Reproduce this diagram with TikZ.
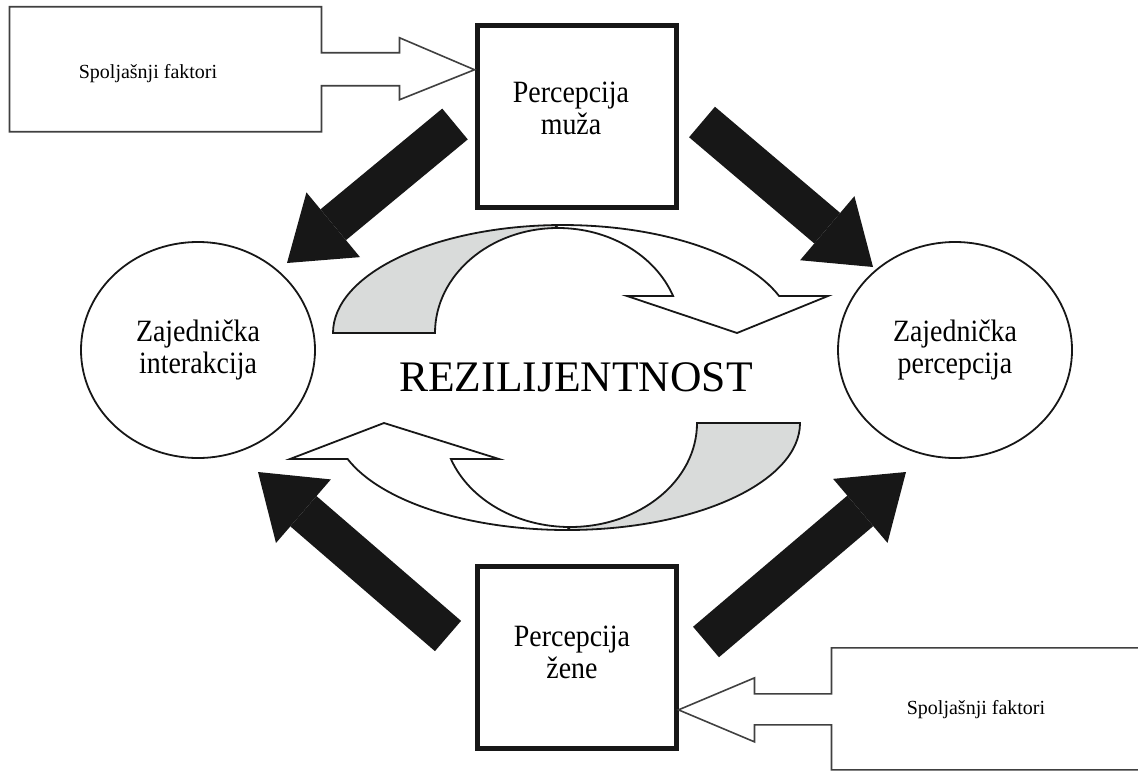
\documentclass[tikz,border=0pt]{standalone}
\usepackage{fontspec}
\usepackage{graphicx}
\setmainfont{Liberation Serif}
\usetikzlibrary{shapes.geometric,arrows.meta,calc}
\definecolor{ink}{RGB}{23,23,23}
\definecolor{ribbongray}{RGB}{217,219,218}
\newcommand{\nar}[1]{\scalebox{0.9}[1]{#1}}

\begin{document}
\begin{tikzpicture}[x=0.5pt, y=0.5pt,
    percbox/.style={draw=ink, fill=white, line width=2.5pt, minimum width=99.5pt, minimum height=91pt, inner sep=0pt},
    circ/.style={draw=ink, ellipse, line width=0.9pt, minimum width=117pt, minimum height=108pt, inner sep=0pt, align=center, font=\fontsize{15.5}{16}\selectfont},
    boxtext/.style={align=center, font=\fontsize{15.5}{16}\selectfont},
    bigarrow/.style={draw=ink, line width=20pt, -{Triangle[length=30pt, width=42pt, line width=0pt]}},
    ribbon/.style={draw=ink, line width=0.9pt, line join=miter},
    callout/.style={draw=black!75, fill=white, line width=0.8pt}]
    \useasboundingbox (0,0) rectangle (1138,-771);

    % Boxes and circles
    \node[percbox] (muz) at (576.5,-116.5) {};
    \node[percbox] (zen) at (576.5,-657.5) {};
    \node[circ] (inter) at (198,-350) {\nar{Zajednička}\\\nar{interakcija}};
    \node[circ] (perc) at (955,-350) {\nar{Zajednička}\\\nar{percepcija}};

    % Outside factors
    \coordinate (tipA) at ($(muz.north west)!0.25!(muz.south west)$);
    \coordinate (tipB) at ($(zen.north east)!0.78!(zen.south east)$);
    \draw[callout] (tipA) -- ++(-75,32) -- ++(0,-15) -- ++(-78,0) -- ++(0,46) -- ++(-312,0)
        -- ++(0,-125) -- ++(312,0) -- ++(0,46) -- ++(78,0) -- ++(0,-14) -- cycle;
    \draw[callout] (tipB) -- ++(76,32) -- ++(0,-16) -- ++(77,0) -- ++(0,46) -- ++(330,0)
        -- ++(0,-122) -- ++(-330,0) -- ++(0,45) -- ++(-77,0) -- ++(0,-17) -- cycle;
    \node[font=\fontsize{10}{12}\selectfont] (fakA) at (148,-74) {Spoljašnji faktori};
    \node[font=\fontsize{10}{12}\selectfont] (fakB) at (976,-710) {Spoljašnji faktori};

    % Ribbon, upper half
    \filldraw[ribbon, fill=ribbongray] (333,-333) arc (180:92:230 and 108) -- (558,-228) arc (90:180:123 and 105) -- cycle;
    \filldraw[ribbon, fill=white] (673.1,-296) arc (20.63:90:123 and 105) -- (555,-225.1) arc (92:20.03:230 and 108)
        -- (828,-296) -- (737,-333) -- (627,-296) -- cycle;
    % Ribbon, lower half
    \filldraw[ribbon, fill=ribbongray] (800,-423) arc (0:-90:233 and 107) -- (570,-527) arc (-90:0:127 and 104) -- cycle;
    \filldraw[ribbon, fill=white] (450.9,-459) arc (200.25:270:127 and 104) -- (567,-530) arc (270:199.66:233 and 107)
        -- (290,-459) -- (384,-423) -- (499,-459) -- cycle;
    \node[font=\fontsize{21.8}{26}\selectfont] (rez) at (576,-377.5) {REZILIJENTNOST};

    % Black arrows
    \coordinate (a1) at (455,-124);  \coordinate (b1) at (287,-263);
    \coordinate (a2) at (702,-122);  \coordinate (b2) at (873,-267);
    \coordinate (a3) at (448,-636);  \coordinate (b3) at (258,-472);
    \coordinate (a4) at (706,-642);  \coordinate (b4) at (906,-472);
    \foreach \i in {1,...,4}
        \draw[bigarrow] (a\i) -- (b\i);

    % Box labels
    \node[boxtext] (muztext) at (571,-108) {\nar{Percepcija}\\\nar{muža}};
    \node[boxtext] (zentext) at (572,-652) {\nar{Percepcija}\\\nar{žene}};
\end{tikzpicture}
\end{document}
